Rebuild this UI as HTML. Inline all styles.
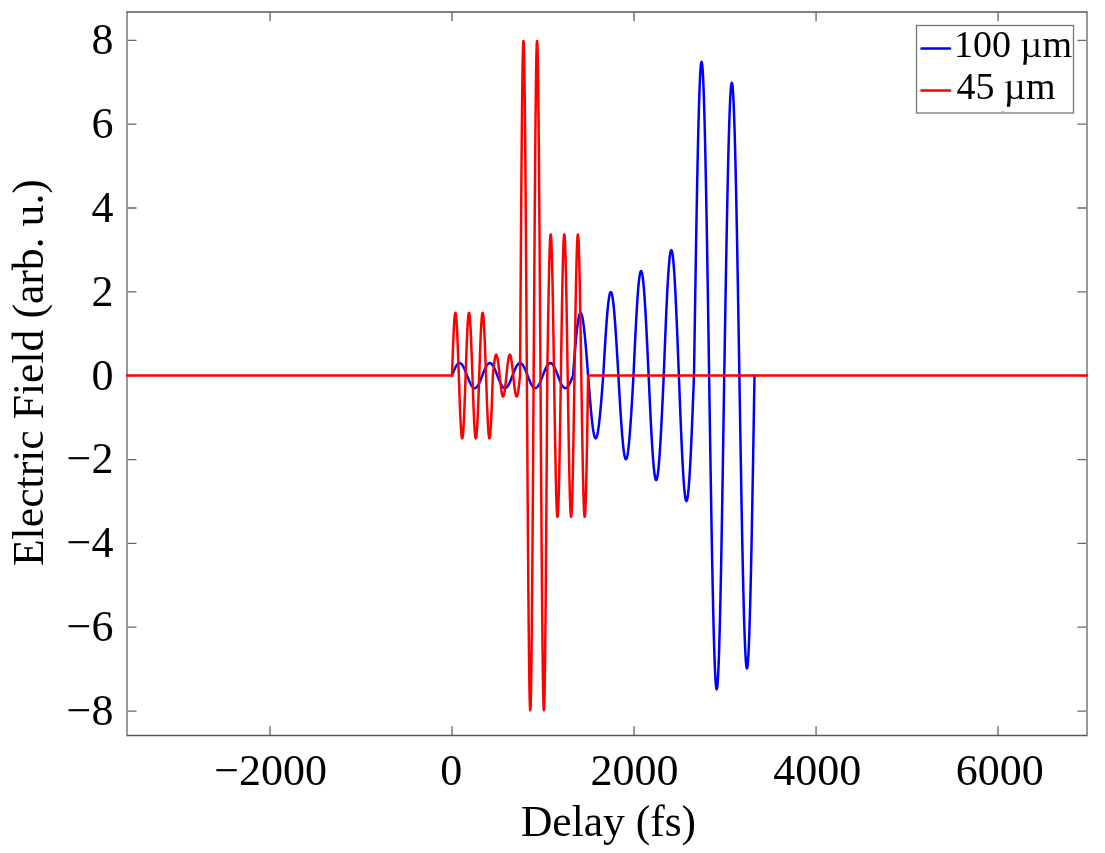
<!DOCTYPE html>
<html><head><meta charset="utf-8"><style>
html,body{margin:0;padding:0;background:#fff;}
body{width:1105px;height:853px;overflow:hidden;}
svg{display:block;will-change:transform;}
text{font-family:"Liberation Serif", serif;fill:#000;}
</style></head><body>
<svg width="1105" height="853" viewBox="0 0 1105 853">
<rect width="1105" height="853" fill="#fff"/>
<path d="M270.07 735.5V726.20M270.07 12.0V21.30M452.07 735.5V726.20M452.07 12.0V21.30M634.07 735.5V726.20M634.07 12.0V21.30M816.07 735.5V726.20M816.07 12.0V21.30M998.07 735.5V726.20M998.07 12.0V21.30" stroke="#888" stroke-width="1.7" fill="none"/>
<path d="M127.0 711.06H136.50M1087.0 711.06H1077.50M127.0 627.22H136.50M1087.0 627.22H1077.50M127.0 543.38H136.50M1087.0 543.38H1077.50M127.0 459.54H136.50M1087.0 459.54H1077.50M127.0 375.70H136.50M1087.0 375.70H1077.50M127.0 291.86H136.50M1087.0 291.86H1077.50M127.0 208.02H136.50M1087.0 208.02H1077.50M127.0 124.18H136.50M1087.0 124.18H1077.50M127.0 40.34H136.50M1087.0 40.34H1077.50" stroke="#666" stroke-width="1.3" fill="none"/>
<path d="M127.0 11.2V736.3M1087.0 11.2V736.3" stroke="#999" stroke-width="2" fill="none"/>
<path d="M127.0 12.0H1087.0M127.0 735.5H1087.0" stroke="#585858" stroke-width="1.6" fill="none"/>
<path d="M452.00 375.60L452.38 374.62 452.76 373.64 453.13 372.67 453.51 371.72 453.89 370.80 454.27 369.90 454.65 369.04 455.02 368.22 455.40 367.45 455.78 366.73 456.16 366.06 456.54 365.45 456.92 364.90 457.29 364.42 457.67 364.01 458.05 363.67 458.43 363.40 458.81 363.21 459.18 363.09 459.56 363.05 459.94 363.09 460.32 363.21 460.70 363.40 461.07 363.67 461.45 364.01 461.83 364.42 462.21 364.90 462.59 365.45 462.97 366.06 463.34 366.73 463.72 367.45 464.10 368.22 464.48 369.04 464.86 369.90 465.23 370.80 465.61 371.72 465.99 372.67 466.37 373.64 466.75 374.62 467.12 375.60 467.50 376.58 467.88 377.56 468.26 378.53 468.64 379.48 469.02 380.40 469.39 381.30 469.77 382.16 470.15 382.98 470.53 383.75 470.91 384.47 471.28 385.14 471.66 385.75 472.04 386.30 472.42 386.78 472.80 387.19 473.18 387.53 473.55 387.80 473.93 387.99 474.31 388.11 474.69 388.15 475.07 388.11 475.44 387.99 475.82 387.80 476.20 387.53 476.58 387.19 476.96 386.78 477.33 386.30 477.71 385.75 478.09 385.14 478.47 384.47 478.85 383.75 479.23 382.98 479.60 382.16 479.98 381.30 480.36 380.40 480.74 379.48 481.12 378.53 481.49 377.56 481.87 376.58 482.25 375.60 482.63 374.62 483.01 373.64 483.38 372.67 483.76 371.72 484.14 370.80 484.52 369.90 484.90 369.04 485.27 368.22 485.65 367.45 486.03 366.73 486.41 366.06 486.79 365.45 487.17 364.90 487.54 364.42 487.92 364.01 488.30 363.67 488.68 363.40 489.06 363.21 489.43 363.09 489.81 363.05 490.19 363.09 490.57 363.21 490.95 363.40 491.32 363.67 491.70 364.01 492.08 364.42 492.46 364.90 492.84 365.45 493.22 366.06 493.59 366.73 493.97 367.45 494.35 368.22 494.73 369.04 495.11 369.90 495.48 370.80 495.86 371.72 496.24 372.67 496.62 373.64 497.00 374.62 497.38 375.60 497.75 376.58 498.13 377.56 498.51 378.53 498.89 379.48 499.27 380.40 499.64 381.30 500.02 382.16 500.40 382.98 500.78 383.75 501.16 384.47 501.53 385.14 501.91 385.75 502.29 386.30 502.67 386.78 503.05 387.19 503.43 387.53 503.80 387.80 504.18 387.99 504.56 388.11 504.94 388.15 505.32 388.11 505.69 387.99 506.07 387.80 506.45 387.53 506.83 387.19 507.21 386.78 507.58 386.30 507.96 385.75 508.34 385.14 508.72 384.47 509.10 383.75 509.48 382.98 509.85 382.16 510.23 381.30 510.61 380.40 510.99 379.48 511.37 378.53 511.74 377.56 512.12 376.58 512.50 375.60 512.88 374.62 513.26 373.64 513.63 372.67 514.01 371.72 514.39 370.80 514.77 369.90 515.15 369.04 515.52 368.22 515.90 367.45 516.28 366.73 516.66 366.06 517.04 365.45 517.42 364.90 517.79 364.42 518.17 364.01 518.55 363.67 518.93 363.40 519.31 363.21 519.68 363.09 520.06 363.05 520.44 363.09 520.82 363.21 521.20 363.40 521.58 363.67 521.95 364.01 522.33 364.42 522.71 364.90 523.09 365.45 523.47 366.06 523.84 366.73 524.22 367.45 524.60 368.22 524.98 369.04 525.36 369.90 525.73 370.80 526.11 371.72 526.49 372.67 526.87 373.64 527.25 374.62 527.62 375.60 528.00 376.58 528.38 377.56 528.76 378.53 529.14 379.48 529.52 380.40 529.89 381.30 530.27 382.16 530.65 382.98 531.03 383.75 531.41 384.47 531.78 385.14 532.16 385.75 532.54 386.30 532.92 386.78 533.30 387.19 533.67 387.53 534.05 387.80 534.43 387.99 534.81 388.11 535.19 388.15 535.57 388.11 535.94 387.99 536.32 387.80 536.70 387.53 537.08 387.19 537.46 386.78 537.83 386.30 538.21 385.75 538.59 385.14 538.97 384.47 539.35 383.75 539.73 382.98 540.10 382.16 540.48 381.30 540.86 380.40 541.24 379.48 541.62 378.53 541.99 377.56 542.37 376.58 542.75 375.60 543.13 374.62 543.51 373.64 543.88 372.67 544.26 371.72 544.64 370.80 545.02 369.90 545.40 369.04 545.77 368.22 546.15 367.45 546.53 366.73 546.91 366.06 547.29 365.45 547.67 364.90 548.04 364.42 548.42 364.01 548.80 363.67 549.18 363.40 549.56 363.21 549.93 363.09 550.31 363.05 550.69 363.09 551.07 363.21 551.45 363.40 551.83 363.67 552.20 364.01 552.58 364.42 552.96 364.90 553.34 365.45 553.72 366.06 554.09 366.73 554.47 367.45 554.85 368.22 555.23 369.04 555.61 369.90 555.98 370.80 556.36 371.72 556.74 372.67 557.12 373.64 557.50 374.62 557.88 375.60 558.25 376.58 558.63 377.56 559.01 378.53 559.39 379.48 559.77 380.40 560.14 381.30 560.52 382.16 560.90 382.98 561.28 383.75 561.66 384.47 562.03 385.14 562.41 385.75 562.79 386.30 563.17 386.78 563.55 387.19 563.92 387.53 564.30 387.80 564.68 387.99 565.06 388.11 565.44 388.15 565.82 388.11 566.19 387.99 566.57 387.80 566.95 387.53 567.33 387.19 567.71 386.78 568.08 386.30 568.46 385.75 568.84 385.14 569.22 384.47 569.60 383.75 569.98 382.98 570.35 382.16 570.73 381.30 571.11 380.40 571.49 379.48 571.87 378.53 572.24 377.56 572.62 376.58 573.00 375.60 573.38 370.68 573.76 365.78 574.13 360.95 574.51 356.21 574.89 351.59 575.27 347.11 575.65 342.82 576.02 338.72 576.40 334.85 576.78 331.23 577.16 327.89 577.54 324.84 577.92 322.10 578.29 319.69 578.67 317.63 579.05 315.93 579.43 314.59 579.81 313.63 580.18 313.05 580.56 312.86 580.94 313.05 581.32 313.63 581.70 314.59 582.08 315.93 582.45 317.63 582.83 319.69 583.21 322.10 583.59 324.84 583.97 327.89 584.34 331.23 584.72 334.85 585.10 338.72 585.48 342.82 585.86 347.11 586.23 351.59 586.61 356.21 586.99 360.95 587.37 365.78 587.75 370.68 588.12 375.60 588.50 380.52 588.88 385.42 589.26 390.25 589.64 394.99 590.02 399.61 590.39 404.09 590.77 408.38 591.15 412.48 591.53 416.35 591.91 419.97 592.28 423.31 592.66 426.36 593.04 429.10 593.42 431.51 593.80 433.57 594.17 435.27 594.55 436.61 594.93 437.57 595.31 438.15 595.69 438.35 596.07 438.15 596.44 437.57 596.82 436.61 597.20 435.27 597.58 433.57 597.96 431.51 598.33 429.10 598.71 426.36 599.09 423.31 599.47 419.97 599.85 416.35 600.23 412.48 600.60 408.38 600.98 404.09 601.36 399.61 601.74 394.99 602.12 390.25 602.49 385.42 602.87 380.52 603.25 375.60 603.63 369.04 604.01 362.51 604.38 356.07 604.76 349.75 605.14 343.58 605.52 337.62 605.90 331.89 606.27 326.43 606.65 321.27 607.03 316.44 607.41 311.98 607.79 307.92 608.17 304.27 608.54 301.06 608.92 298.31 609.30 296.03 609.68 294.25 610.06 292.97 610.43 292.20 610.81 291.94 611.19 292.20 611.57 292.97 611.95 294.25 612.33 296.03 612.70 298.31 613.08 301.06 613.46 304.27 613.84 307.92 614.22 311.98 614.59 316.44 614.97 321.27 615.35 326.43 615.73 331.89 616.11 337.62 616.48 343.58 616.86 349.75 617.24 356.07 617.62 362.51 618.00 369.04 618.38 375.60 618.75 382.16 619.13 388.69 619.51 395.13 619.89 401.45 620.27 407.62 620.64 413.58 621.02 419.31 621.40 424.77 621.78 429.93 622.16 434.76 622.53 439.22 622.91 443.28 623.29 446.93 623.67 450.14 624.05 452.89 624.42 455.17 624.80 456.95 625.18 458.23 625.56 459.00 625.94 459.26 626.32 459.00 626.69 458.23 627.07 456.95 627.45 455.17 627.83 452.89 628.21 450.14 628.58 446.93 628.96 443.28 629.34 439.22 629.72 434.76 630.10 429.93 630.48 424.77 630.85 419.31 631.23 413.58 631.61 407.62 631.99 401.45 632.37 395.13 632.74 388.69 633.12 382.16 633.50 375.60 633.88 367.40 634.26 359.24 634.63 351.19 635.01 343.28 635.39 335.58 635.77 328.12 636.15 320.96 636.52 314.13 636.90 307.68 637.28 301.65 637.66 296.08 638.04 291.00 638.42 286.44 638.79 282.42 639.17 278.99 639.55 276.14 639.93 273.91 640.31 272.31 640.68 271.35 641.06 271.03 641.44 271.35 641.82 272.31 642.20 273.91 642.58 276.14 642.95 278.99 643.33 282.42 643.71 286.44 644.09 291.00 644.47 296.08 644.84 301.65 645.22 307.68 645.60 314.13 645.98 320.96 646.36 328.12 646.73 335.58 647.11 343.28 647.49 351.19 647.87 359.24 648.25 367.40 648.62 375.60 649.00 383.80 649.38 391.96 649.76 400.01 650.14 407.92 650.52 415.62 650.89 423.08 651.27 430.24 651.65 437.07 652.03 443.52 652.41 449.55 652.78 455.12 653.16 460.20 653.54 464.76 653.92 468.78 654.30 472.21 654.67 475.06 655.05 477.29 655.43 478.89 655.81 479.85 656.19 480.18 656.57 479.85 656.94 478.89 657.32 477.29 657.70 475.06 658.08 472.21 658.46 468.78 658.83 464.76 659.21 460.20 659.59 455.12 659.97 449.55 660.35 443.52 660.73 437.07 661.10 430.24 661.48 423.08 661.86 415.62 662.24 407.92 662.62 400.01 662.99 391.96 663.37 383.80 663.75 375.60 664.13 365.75 664.51 355.97 664.88 346.30 665.26 336.82 665.64 327.58 666.02 318.63 666.40 310.03 666.77 301.84 667.15 294.10 667.53 286.87 667.91 280.18 668.29 274.08 668.67 268.60 669.04 263.79 669.42 259.66 669.80 256.25 670.18 253.58 670.56 251.65 670.93 250.50 671.31 250.11 671.69 250.50 672.07 251.65 672.45 253.58 672.83 256.25 673.20 259.66 673.58 263.79 673.96 268.60 674.34 274.08 674.72 280.18 675.09 286.87 675.47 294.10 675.85 301.84 676.23 310.03 676.61 318.63 676.98 327.58 677.36 336.82 677.74 346.30 678.12 355.97 678.50 365.75 678.88 375.60 679.25 385.45 679.63 395.23 680.01 404.90 680.39 414.38 680.77 423.62 681.14 432.57 681.52 441.17 681.90 449.36 682.28 457.10 682.66 464.33 683.03 471.02 683.41 477.12 683.79 482.60 684.17 487.41 684.55 491.54 684.92 494.95 685.30 497.62 685.68 499.55 686.06 500.70 686.44 501.09 686.82 500.70 687.19 499.55 687.57 497.62 687.95 494.95 688.33 491.54 688.71 487.41 689.08 482.60 689.46 477.12 689.84 471.02 690.22 464.33 690.60 457.10 690.98 449.36 691.35 441.17 691.73 432.57 692.11 423.62 692.49 414.38 692.87 404.90 693.24 395.23 693.62 385.45 694.00 375.60 694.38 350.99 694.76 326.52 695.13 302.36 695.51 278.65 695.89 255.54 696.27 233.17 696.65 211.68 697.02 191.20 697.40 171.85 697.78 153.76 698.16 137.04 698.54 121.79 698.92 108.11 699.29 96.07 699.67 85.76 700.05 77.23 700.43 70.54 700.81 65.74 701.18 62.84 701.56 61.88 701.94 62.84 702.32 65.74 702.70 70.54 703.08 77.23 703.45 85.76 703.83 96.07 704.21 108.11 704.59 121.79 704.97 137.04 705.34 153.76 705.72 171.85 706.10 191.20 706.48 211.68 706.86 233.17 707.23 255.54 707.61 278.65 707.99 302.36 708.37 326.52 708.75 350.99 709.12 375.60 709.50 400.21 709.88 424.68 710.26 448.84 710.64 472.55 711.02 495.66 711.39 518.03 711.77 539.52 712.15 560.00 712.53 579.35 712.91 597.44 713.28 614.16 713.66 629.41 714.04 643.09 714.42 655.13 714.80 665.44 715.17 673.97 715.55 680.66 715.93 685.46 716.31 688.36 716.69 689.33 717.07 688.36 717.44 685.46 717.82 680.66 718.20 673.97 718.58 665.44 718.96 655.13 719.33 643.09 719.71 629.41 720.09 614.16 720.47 597.44 720.85 579.35 721.23 560.00 721.60 539.52 721.98 518.03 722.36 495.66 722.74 472.55 723.12 448.84 723.49 424.68 723.87 400.21 724.25 375.60 724.63 352.63 725.01 329.79 725.38 307.24 725.76 285.12 726.14 263.55 726.52 242.67 726.90 222.61 727.27 203.49 727.65 185.44 728.03 168.55 728.41 152.95 728.79 138.71 729.17 125.94 729.54 114.70 729.92 105.08 730.30 97.12 730.68 90.88 731.06 86.39 731.43 83.69 731.81 82.79 732.19 83.69 732.57 86.39 732.95 90.88 733.33 97.12 733.70 105.08 734.08 114.70 734.46 125.94 734.84 138.71 735.22 152.95 735.59 168.55 735.97 185.44 736.35 203.49 736.73 222.61 737.11 242.67 737.48 263.55 737.86 285.12 738.24 307.24 738.62 329.79 739.00 352.63 739.38 375.60 739.75 398.57 740.13 421.41 740.51 443.96 740.89 466.08 741.27 487.65 741.64 508.53 742.02 528.59 742.40 547.71 742.78 565.76 743.16 582.65 743.53 598.25 743.91 612.49 744.29 625.26 744.67 636.50 745.05 646.12 745.42 654.08 745.80 660.32 746.18 664.81 746.56 667.51 746.94 668.41 747.32 667.51 747.69 664.81 748.07 660.32 748.45 654.08 748.83 646.12 749.21 636.50 749.58 625.26 749.96 612.49 750.34 598.25 750.72 582.65 751.10 565.76 751.48 547.71 751.85 528.59 752.23 508.53 752.61 487.65 752.99 466.08 753.37 443.96 753.74 421.41 754.12 398.57 754.50 375.60" fill="none" stroke="#0000ff" stroke-width="2.5" stroke-linejoin="round" stroke-linecap="round"/>
<path d="M127.00 375.60L452.00 375.60 452.17 370.68 452.34 365.78 452.51 360.95 452.68 356.21 452.85 351.59 453.02 347.11 453.19 342.82 453.36 338.72 453.53 334.85 453.70 331.23 453.87 327.89 454.04 324.84 454.21 322.10 454.38 319.69 454.55 317.63 454.72 315.93 454.89 314.59 455.06 313.63 455.23 313.05 455.40 312.86 455.57 313.05 455.74 313.63 455.91 314.59 456.08 315.93 456.25 317.63 456.42 319.69 456.59 322.10 456.76 324.84 456.93 327.89 457.10 331.23 457.27 334.85 457.44 338.72 457.61 342.82 457.78 347.11 457.95 351.59 458.12 356.21 458.29 360.95 458.46 365.78 458.63 370.68 458.81 375.60 458.98 380.52 459.15 385.42 459.32 390.25 459.49 394.99 459.66 399.61 459.83 404.09 460.00 408.38 460.17 412.48 460.34 416.35 460.51 419.97 460.68 423.31 460.85 426.36 461.02 429.10 461.19 431.51 461.36 433.57 461.53 435.27 461.70 436.61 461.87 437.57 462.04 438.15 462.21 438.35 462.38 438.15 462.55 437.57 462.72 436.61 462.89 435.27 463.06 433.57 463.23 431.51 463.40 429.10 463.57 426.36 463.74 423.31 463.91 419.97 464.08 416.35 464.25 412.48 464.42 408.38 464.59 404.09 464.76 399.61 464.93 394.99 465.10 390.25 465.27 385.42 465.44 380.52 465.61 375.60 465.78 370.68 465.95 365.78 466.12 360.95 466.29 356.21 466.46 351.59 466.63 347.11 466.80 342.82 466.97 338.72 467.14 334.85 467.31 331.23 467.48 327.89 467.65 324.84 467.82 322.10 467.99 319.69 468.16 317.63 468.33 315.93 468.50 314.59 468.67 313.63 468.84 313.05 469.01 312.86 469.18 313.05 469.35 313.63 469.52 314.59 469.69 315.93 469.86 317.63 470.03 319.69 470.20 322.10 470.37 324.84 470.54 327.89 470.71 331.23 470.88 334.85 471.05 338.72 471.22 342.82 471.39 347.11 471.56 351.59 471.73 356.21 471.90 360.95 472.07 365.78 472.24 370.68 472.42 375.60 472.59 380.52 472.76 385.42 472.93 390.25 473.10 394.99 473.27 399.61 473.44 404.09 473.61 408.38 473.78 412.48 473.95 416.35 474.12 419.97 474.29 423.31 474.46 426.36 474.63 429.10 474.80 431.51 474.97 433.57 475.14 435.27 475.31 436.61 475.48 437.57 475.65 438.15 475.82 438.35 475.99 438.15 476.16 437.57 476.33 436.61 476.50 435.27 476.67 433.57 476.84 431.51 477.01 429.10 477.18 426.36 477.35 423.31 477.52 419.97 477.69 416.35 477.86 412.48 478.03 408.38 478.20 404.09 478.37 399.61 478.54 394.99 478.71 390.25 478.88 385.42 479.05 380.52 479.22 375.60 479.39 370.68 479.56 365.78 479.73 360.95 479.90 356.21 480.07 351.59 480.24 347.11 480.41 342.82 480.58 338.72 480.75 334.85 480.92 331.23 481.09 327.89 481.26 324.84 481.43 322.10 481.60 319.69 481.77 317.63 481.94 315.93 482.11 314.59 482.28 313.63 482.45 313.05 482.62 312.86 482.79 313.05 482.96 313.63 483.13 314.59 483.30 315.93 483.47 317.63 483.64 319.69 483.81 322.10 483.98 324.84 484.15 327.89 484.32 331.23 484.49 334.85 484.66 338.72 484.83 342.82 485.00 347.11 485.17 351.59 485.34 356.21 485.51 360.95 485.68 365.78 485.85 370.68 486.03 375.60 486.20 380.52 486.37 385.42 486.54 390.25 486.71 394.99 486.88 399.61 487.05 404.09 487.22 408.38 487.39 412.48 487.56 416.35 487.73 419.97 487.90 423.31 488.07 426.36 488.24 429.10 488.41 431.51 488.58 433.57 488.75 435.27 488.92 436.61 489.09 437.57 489.26 438.15 489.43 438.35 489.60 438.15 489.77 437.57 489.94 436.61 490.11 435.27 490.28 433.57 490.45 431.51 490.62 429.10 490.79 426.36 490.96 423.31 491.13 419.97 491.30 416.35 491.47 412.48 491.64 408.38 491.81 404.09 491.98 399.61 492.15 394.99 492.32 390.25 492.49 385.42 492.66 380.52 492.83 375.60 493.00 373.96 493.17 372.33 493.34 370.72 493.51 369.14 493.68 367.60 493.85 366.10 494.02 364.67 494.19 363.31 494.36 362.02 494.53 360.81 494.70 359.70 494.87 358.68 495.04 357.77 495.21 356.96 495.38 356.28 495.55 355.71 495.72 355.26 495.89 354.94 496.06 354.75 496.23 354.69 496.40 354.75 496.57 354.94 496.74 355.26 496.91 355.71 497.08 356.28 497.25 356.96 497.42 357.77 497.59 358.68 497.76 359.70 497.93 360.81 498.10 362.02 498.27 363.31 498.44 364.67 498.61 366.10 498.78 367.60 498.95 369.14 499.12 370.72 499.29 372.33 499.46 373.96 499.64 375.60 499.81 377.24 499.98 378.87 500.15 380.48 500.32 382.06 500.49 383.60 500.66 385.10 500.83 386.53 501.00 387.89 501.17 389.18 501.34 390.39 501.51 391.50 501.68 392.52 501.85 393.43 502.02 394.24 502.19 394.92 502.36 395.49 502.53 395.94 502.70 396.26 502.87 396.45 503.04 396.52 503.21 396.45 503.38 396.26 503.55 395.94 503.72 395.49 503.89 394.92 504.06 394.24 504.23 393.43 504.40 392.52 504.57 391.50 504.74 390.39 504.91 389.18 505.08 387.89 505.25 386.53 505.42 385.10 505.59 383.60 505.76 382.06 505.93 380.48 506.10 378.87 506.27 377.24 506.44 375.60 506.61 373.96 506.78 372.33 506.95 370.72 507.12 369.14 507.29 367.60 507.46 366.10 507.63 364.67 507.80 363.31 507.97 362.02 508.14 360.81 508.31 359.70 508.48 358.68 508.65 357.77 508.82 356.96 508.99 356.28 509.16 355.71 509.33 355.26 509.50 354.94 509.67 354.75 509.84 354.69 510.01 354.75 510.18 354.94 510.35 355.26 510.52 355.71 510.69 356.28 510.86 356.96 511.03 357.77 511.20 358.68 511.37 359.70 511.54 360.81 511.71 362.02 511.88 363.31 512.05 364.67 512.22 366.10 512.39 367.60 512.56 369.14 512.73 370.72 512.90 372.33 513.07 373.96 513.25 375.60 513.42 377.24 513.59 378.87 513.76 380.48 513.93 382.06 514.10 383.60 514.27 385.10 514.44 386.53 514.61 387.89 514.78 389.18 514.95 390.39 515.12 391.50 515.29 392.52 515.46 393.43 515.63 394.24 515.80 394.92 515.97 395.49 516.14 395.94 516.31 396.26 516.48 396.45 516.65 396.52 516.82 396.45 516.99 396.26 517.16 395.94 517.33 395.49 517.50 394.92 517.67 394.24 517.84 393.43 518.01 392.52 518.18 391.50 518.35 390.39 518.52 389.18 518.69 387.89 518.86 386.53 519.03 385.10 519.20 383.60 519.37 382.06 519.54 380.48 519.71 378.87 519.88 377.24 520.05 375.60 520.22 349.34 520.39 323.25 520.56 297.48 520.73 272.19 520.90 247.54 521.07 223.68 521.24 200.75 521.41 178.90 521.58 158.27 521.75 138.97 521.92 121.14 522.09 104.87 522.26 90.27 522.43 77.43 522.60 66.43 522.77 57.34 522.94 50.21 523.11 45.08 523.28 41.99 523.45 40.96 523.62 41.99 523.79 45.08 523.96 50.21 524.13 57.34 524.30 66.43 524.47 77.43 524.64 90.27 524.81 104.87 524.98 121.14 525.15 138.97 525.32 158.27 525.49 178.90 525.66 200.75 525.83 223.68 526.00 247.54 526.17 272.19 526.34 297.48 526.51 323.25 526.68 349.34 526.86 375.60 527.03 401.86 527.20 427.95 527.37 453.72 527.54 479.01 527.71 503.66 527.88 527.52 528.05 550.45 528.22 572.30 528.39 592.93 528.56 612.23 528.73 630.06 528.90 646.33 529.07 660.93 529.24 673.77 529.41 684.77 529.58 693.86 529.75 700.99 529.92 706.12 530.09 709.21 530.26 710.24 530.43 709.21 530.60 706.12 530.77 700.99 530.94 693.86 531.11 684.77 531.28 673.77 531.45 660.93 531.62 646.33 531.79 630.06 531.96 612.23 532.13 592.93 532.30 572.30 532.47 550.45 532.64 527.52 532.81 503.66 532.98 479.01 533.15 453.72 533.32 427.95 533.49 401.86 533.66 375.60 533.83 349.34 534.00 323.25 534.17 297.48 534.34 272.19 534.51 247.54 534.68 223.68 534.85 200.75 535.02 178.90 535.19 158.27 535.36 138.97 535.53 121.14 535.70 104.87 535.87 90.27 536.04 77.43 536.21 66.43 536.38 57.34 536.55 50.21 536.72 45.08 536.89 41.99 537.06 40.96 537.23 41.99 537.40 45.08 537.57 50.21 537.74 57.34 537.91 66.43 538.08 77.43 538.25 90.27 538.42 104.87 538.59 121.14 538.76 138.97 538.93 158.27 539.10 178.90 539.27 200.75 539.44 223.68 539.61 247.54 539.78 272.19 539.95 297.48 540.12 323.25 540.29 349.34 540.47 375.60 540.64 401.86 540.81 427.95 540.98 453.72 541.15 479.01 541.32 503.66 541.49 527.52 541.66 550.45 541.83 572.30 542.00 592.93 542.17 612.23 542.34 630.06 542.51 646.33 542.68 660.93 542.85 673.77 543.02 684.77 543.19 693.86 543.36 700.99 543.53 706.12 543.70 709.21 543.87 710.24 544.04 709.21 544.21 706.12 544.38 700.99 544.55 693.86 544.72 684.77 544.89 673.77 545.06 660.93 545.23 646.33 545.40 630.06 545.57 612.23 545.74 592.93 545.91 572.30 546.08 550.45 546.25 527.52 546.42 503.66 546.59 479.01 546.76 453.72 546.93 427.95 547.10 401.86 547.27 375.60 547.44 364.52 547.61 353.52 547.78 342.64 547.95 331.97 548.12 321.57 548.29 311.51 548.46 301.84 548.63 292.62 548.80 283.91 548.97 275.77 549.14 268.25 549.31 261.39 549.48 255.23 549.65 249.81 549.82 245.17 549.99 241.33 550.16 238.32 550.33 236.16 550.50 234.86 550.67 234.42 550.84 234.86 551.01 236.16 551.18 238.32 551.35 241.33 551.52 245.17 551.69 249.81 551.86 255.23 552.03 261.39 552.20 268.25 552.37 275.77 552.54 283.91 552.71 292.62 552.88 301.84 553.05 311.51 553.22 321.57 553.39 331.97 553.56 342.64 553.73 353.52 553.90 364.52 554.08 375.60 554.25 386.68 554.42 397.68 554.59 408.56 554.76 419.23 554.93 429.63 555.10 439.69 555.27 449.36 555.44 458.58 555.61 467.29 555.78 475.43 555.95 482.95 556.12 489.81 556.29 495.97 556.46 501.39 556.63 506.03 556.80 509.87 556.97 512.88 557.14 515.04 557.31 516.34 557.48 516.78 557.65 516.34 557.82 515.04 557.99 512.88 558.16 509.87 558.33 506.03 558.50 501.39 558.67 495.97 558.84 489.81 559.01 482.95 559.18 475.43 559.35 467.29 559.52 458.58 559.69 449.36 559.86 439.69 560.03 429.63 560.20 419.23 560.37 408.56 560.54 397.68 560.71 386.68 560.88 375.60 561.05 364.52 561.22 353.52 561.39 342.64 561.56 331.97 561.73 321.57 561.90 311.51 562.07 301.84 562.24 292.62 562.41 283.91 562.58 275.77 562.75 268.25 562.92 261.39 563.09 255.23 563.26 249.81 563.43 245.17 563.60 241.33 563.77 238.32 563.94 236.16 564.11 234.86 564.28 234.42 564.45 234.86 564.62 236.16 564.79 238.32 564.96 241.33 565.13 245.17 565.30 249.81 565.47 255.23 565.64 261.39 565.81 268.25 565.98 275.77 566.15 283.91 566.32 292.62 566.49 301.84 566.66 311.51 566.83 321.57 567.00 331.97 567.17 342.64 567.34 353.52 567.51 364.52 567.69 375.60 567.86 386.68 568.03 397.68 568.20 408.56 568.37 419.23 568.54 429.63 568.71 439.69 568.88 449.36 569.05 458.58 569.22 467.29 569.39 475.43 569.56 482.95 569.73 489.81 569.90 495.97 570.07 501.39 570.24 506.03 570.41 509.87 570.58 512.88 570.75 515.04 570.92 516.34 571.09 516.78 571.26 516.34 571.43 515.04 571.60 512.88 571.77 509.87 571.94 506.03 572.11 501.39 572.28 495.97 572.45 489.81 572.62 482.95 572.79 475.43 572.96 467.29 573.13 458.58 573.30 449.36 573.47 439.69 573.64 429.63 573.81 419.23 573.98 408.56 574.15 397.68 574.32 386.68 574.49 375.60 574.66 364.52 574.83 353.52 575.00 342.64 575.17 331.97 575.34 321.57 575.51 311.51 575.68 301.84 575.85 292.62 576.02 283.91 576.19 275.77 576.36 268.25 576.53 261.39 576.70 255.23 576.87 249.81 577.04 245.17 577.21 241.33 577.38 238.32 577.55 236.16 577.72 234.86 577.89 234.42 578.06 234.86 578.23 236.16 578.40 238.32 578.57 241.33 578.74 245.17 578.91 249.81 579.08 255.23 579.25 261.39 579.42 268.25 579.59 275.77 579.76 283.91 579.93 292.62 580.10 301.84 580.27 311.51 580.44 321.57 580.61 331.97 580.78 342.64 580.95 353.52 581.12 364.52 581.30 375.60 581.47 386.68 581.64 397.68 581.81 408.56 581.98 419.23 582.15 429.63 582.32 439.69 582.49 449.36 582.66 458.58 582.83 467.29 583.00 475.43 583.17 482.95 583.34 489.81 583.51 495.97 583.68 501.39 583.85 506.03 584.02 509.87 584.19 512.88 584.36 515.04 584.53 516.34 584.70 516.78 584.87 516.34 585.04 515.04 585.21 512.88 585.38 509.87 585.55 506.03 585.72 501.39 585.89 495.97 586.06 489.81 586.23 482.95 586.40 475.43 586.57 467.29 586.74 458.58 586.91 449.36 587.08 439.69 587.25 429.63 587.42 419.23 587.59 408.56 587.76 397.68 587.93 386.68 588.10 375.60 1087.00 375.60" fill="none" stroke="#ff0000" stroke-width="2.5" stroke-linejoin="round" stroke-linecap="round"/>

<g font-size="44">
<text x="270.57" y="785.0" text-anchor="middle">−2000</text><text x="451.37" y="785.0" text-anchor="middle">0</text><text x="634.57" y="785.0" text-anchor="middle">2000</text><text x="817.27" y="785.0" text-anchor="middle">4000</text><text x="999.77" y="785.0" text-anchor="middle">6000</text>
<text x="113.4" y="724.86" text-anchor="end">−8</text><text x="113.4" y="641.02" text-anchor="end">−6</text><text x="113.4" y="557.18" text-anchor="end">−4</text><text x="113.4" y="473.34" text-anchor="end">−2</text><text x="113.4" y="389.50" text-anchor="end">0</text><text x="113.4" y="305.66" text-anchor="end">2</text><text x="113.4" y="221.82" text-anchor="end">4</text><text x="113.4" y="137.98" text-anchor="end">6</text><text x="113.4" y="54.14" text-anchor="end">8</text>
</g>
<text x="608.5" y="835.7" font-size="43.5" text-anchor="middle">Delay (fs)</text>
<text transform="translate(42.8 372.6) rotate(-90)" font-size="43.7" text-anchor="middle">Electric Field (arb. u.)</text>
<rect x="916.5" y="25.5" width="157" height="87.5" fill="#fff" stroke="#777" stroke-width="1.3"/>
<path d="M921.5 48.6H950" stroke="#0000ff" stroke-width="2.5" stroke-linecap="round"/>
<path d="M921.5 90.4H950" stroke="#ff0000" stroke-width="2.5" stroke-linecap="round"/>
<g font-size="38">
<text x="954" y="56.8">100</text>
<text x="956.4" y="98.8">45</text>
<text x="1042.4" y="56.8">m</text>
<text x="1025.9" y="98.8">m</text>
</g>
<path transform="translate(1021.2 56.8)" d="M0 -16.5L5.9 -17.9L5.9 -4.6C6.5 -2.0 8.0 -1.0 9.8 -1.0C11.6 -1.0 13.4 -2.2 14.4 -3.8L14.4 -16.3L11.7 -16.5L11.7 -17.0L17.1 -17.9L17.1 -1.2L19.8 -0.8L19.8 0.2L14.4 0.2L14.4 -1.7C13.3 -0.3 11.6 0.4 9.8 0.4C8.2 0.4 6.9 -0.2 6.0 -1.0C5.9 2.2 5.6 5.4 5.2 8.0L1.9 8.0C2.4 5.4 2.8 2.4 2.8 -0.6L2.8 -16.3L0 -16.0Z"/>
<path transform="translate(1004.8 98.7)" d="M0 -16.5L5.9 -17.9L5.9 -4.6C6.5 -2.0 8.0 -1.0 9.8 -1.0C11.6 -1.0 13.4 -2.2 14.4 -3.8L14.4 -16.3L11.7 -16.5L11.7 -17.0L17.1 -17.9L17.1 -1.2L19.8 -0.8L19.8 0.2L14.4 0.2L14.4 -1.7C13.3 -0.3 11.6 0.4 9.8 0.4C8.2 0.4 6.9 -0.2 6.0 -1.0C5.9 2.2 5.6 5.4 5.2 8.0L1.9 8.0C2.4 5.4 2.8 2.4 2.8 -0.6L2.8 -16.3L0 -16.0Z"/>
<ellipse cx="1002.9" cy="111.4" rx="1.6" ry="0.8" fill="#c8c8c8"/>
</svg>
</body></html>
